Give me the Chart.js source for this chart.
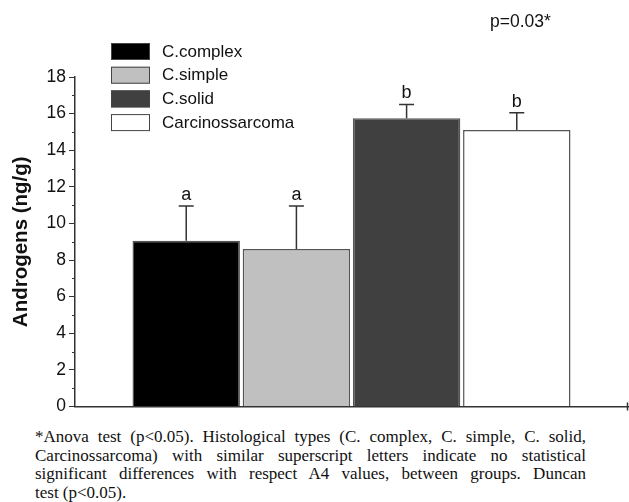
<!DOCTYPE html>
<html>
<head>
<meta charset="utf-8">
<script src="https://cdn.jsdelivr.net/npm/chart.js@4.4.1/dist/chart.umd.min.js"></script>
<style>
  html, body { margin: 0; padding: 0; background: #fff; }
  #wrap { position: relative; width: 629px; height: 502px; }
  #chart { position: absolute; left: 0; top: 0; }
  #pval { position: absolute; left: 490px; top: 11px; font: 17.5px Arial, "Liberation Sans", sans-serif; color: #111; }
  #note {
    position: absolute; left: 35px; top: 428px; width: 551px;
    font: 17px "Liberation Serif", "Times New Roman", serif; line-height: 18.7px;
    color: #111;
  }
  #note div { text-align: justify; text-align-last: justify; white-space: nowrap; }
  #note div.last { text-align-last: left; }
</style>
</head>
<body>
<div id="wrap">
  <canvas id="chart" width="629" height="420"></canvas>
  <div id="pval">p=0.03*</div>
  <div id="note">
    <div>*Anova test (p&lt;0.05). Histological types (C. complex, C. simple, C. solid,</div>
    <div>Carcinossarcoma) with similar superscript letters indicate no statistical</div>
    <div>significant differences with respect A4 values, between groups. Duncan</div>
    <div class="last">test (p&lt;0.05).</div>
  </div>
</div>
<script>
// datos
const groups = ['C.complex', 'C.simple', 'C.solid', 'Carcinossarcoma'];
const means = [9.05, 8.6, 15.75, 15.1];
const errors = [1.9, 2.35, 0.75, 0.95];
const letters = ['a', 'a', 'b', 'b'];
const fills = ['#000000', '#c0c0c0', '#404040', '#ffffff'];
const yTicks = [0, 2, 4, 6, 8, 10, 12, 14, 16, 18];

// barras de error, letras, ticks menores y leyenda
const extras = {
  id: 'extras',
  afterDatasetsDraw(chart) {
    const ctx = chart.ctx;
    const y = chart.scales.y;
    const area = chart.chartArea;
    ctx.save();

    // error bars + letras
    chart.data.datasets.forEach((ds, i) => {
      const bar = chart.getDatasetMeta(i).data[0];
      const top = y.getPixelForValue(means[i] + errors[i]);
      ctx.strokeStyle = '#333';
      ctx.lineWidth = 1.5;
      ctx.beginPath();
      ctx.moveTo(bar.x, bar.y);
      ctx.lineTo(bar.x, top);
      ctx.moveTo(bar.x - 7.5, top);
      ctx.lineTo(bar.x + 7.5, top);
      ctx.stroke();
      ctx.fillStyle = '#111';
      ctx.font = '18px Arial, "Liberation Sans", sans-serif';
      ctx.textAlign = 'center';
      ctx.textBaseline = 'alphabetic';
      ctx.fillText(letters[i], bar.x, top - 6);
    });

    // ticks menores en el eje y
    ctx.strokeStyle = '#333';
    ctx.lineWidth = 1;
    for (let k = 0; k < yTicks.length - 1; k++) {
      const py = Math.round(y.getPixelForValue((yTicks[k] + yTicks[k + 1]) / 2)) + 0.5;
      ctx.beginPath();
      ctx.moveTo(area.left - 3, py);
      ctx.lineTo(area.left, py);
      ctx.stroke();
    }

    // tick al final del eje x
    ctx.lineWidth = 1.5;
    ctx.beginPath();
    ctx.moveTo(area.right - 0.5, area.bottom - 4);
    ctx.lineTo(area.right - 0.5, area.bottom + 4);
    ctx.stroke();

    // leyenda
    ctx.font = '17px Arial, "Liberation Sans", sans-serif';
    ctx.textAlign = 'left';
    ctx.textBaseline = 'middle';
    groups.forEach((g, i) => {
      const ty = 43 + i * 23.7;
      ctx.fillStyle = fills[i];
      ctx.fillRect(111, ty, 39, 17);
      ctx.strokeStyle = '#444';
      ctx.lineWidth = 1;
      ctx.strokeRect(111.5, ty + 0.5, 38, 16);
      ctx.fillStyle = '#111';
      ctx.fillText(g, 162, ty + 9);
    });
    ctx.restore();
  }
};

new Chart(document.getElementById('chart'), {
  type: 'bar',
  data: {
    labels: [''],
    datasets: groups.map((g, i) => ({
      label: g,
      data: [means[i]],
      backgroundColor: fills[i],
      borderColor: '#555',
      borderWidth: 1.5,
      categoryPercentage: 0.797,
      barPercentage: 0.975
    }))
  },
  options: {
    responsive: false,
    animation: false,
    layout: { padding: { top: 77, right: 1, bottom: 12, left: 0 } },
    plugins: { legend: { display: false }, tooltip: { enabled: false } },
    scales: {
      x: {
        grid: { display: false },
        border: { display: true, color: '#333', width: 1.5 },
        ticks: { display: false },
        afterFit(scale) { scale.height = 0; }
      },
      y: {
        min: 0,
        max: 18,
        afterBuildTicks(scale) { scale.ticks = yTicks.map(v => ({ value: v })); },
        afterFit(scale) { scale.width = 75; },
        grid: { drawOnChartArea: false, tickLength: 6, color: '#333' },
        border: { display: true, color: '#333', width: 1.5 },
        ticks: { color: '#111', padding: 3, font: { family: 'Arial, "Liberation Sans", sans-serif', size: 17.5 } },
        title: {
          display: true,
          text: 'Androgens (ng/g)',
          color: '#111',
          padding: { top: 9, bottom: 0 },
          font: { family: 'Arial, "Liberation Sans", sans-serif', size: 20.5, weight: 'bold' }
        }
      }
    }
  },
  plugins: [extras]
});
</script>
</body>
</html>
